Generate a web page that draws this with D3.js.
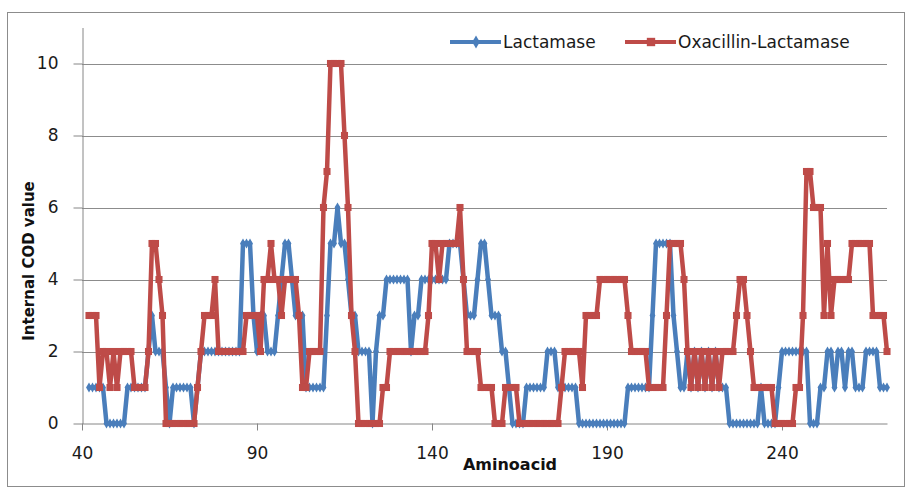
<!DOCTYPE html>
<meta charset="utf-8">
<head>
<style>
body { margin: 0; background: #fff; }
svg { display: block; }
.axis text { font: 17px "DejaVu Sans", sans-serif; fill: #1a1a1a; }
.axis path, .axis line { stroke: #868686; }
.grid line { stroke: #8c8c8c; }
.lbl { font: bold 16px "DejaVu Sans", sans-serif; fill: #111; }
.leg { font: 17px "DejaVu Sans", sans-serif; fill: #1a1a1a; }
</style>
<script src="https://d3js.org/d3.v7.min.js"></script>
</head>
<body>
<svg id="chart" width="907" height="490"></svg>
<script>

// amino acid positions 42..270
var xStart = 42;

var lactamase = [
  1,1,1,1,1,0,0,0,0,0,
  0,1,1,1,1,1,1,2,3,
  2,2,2,1,0,1,1,1,1,
  1,1,0,1,2,2,2,2,2,2,
  2,2,2,2,2,2,5,5,5,3,
  2,3,3,2,2,2,3,4,5,5,
  4,3,3,3,1,1,1,1,1,
  1,3,5,5,6,5,5,4,3,3,
  2,2,2,2,0,2,3,3,4,
  4,4,4,4,4,4,2,3,3,
  4,4,4,4,4,4,4,4,5,5,
  5,5,4,3,3,3,4,5,5,4,
  3,3,3,2,2,1,0,0,0,
  0,1,1,1,1,1,1,2,2,2,
  1,1,1,1,1,1,0,0,0,0,
  0,0,0,0,0,0,0,0,0,
  0,1,1,1,1,1,1,1,3,
  5,5,5,5,5,3,2,1,1,2,
  1,2,1,2,1,2,1,2,1,1,
  1,0,0,0,0,0,0,0,0,0,
  1,0,0,0,0,1,2,2,2,
  2,2,2,2,2,0,0,0,1,1,
  2,2,1,2,2,1,2,2,1,1,
  1,2,2,2,2,1,1,1
];

var oxacillin = [
  3,3,3,1,2,2,1,2,1,2,
  2,2,2,1,1,1,1,2,5,
  5,4,3,0,0,0,0,0,0,
  0,0,0,1,2,3,3,3,4,2,
  2,2,2,2,2,2,2,3,3,3,
  3,2,4,4,5,4,4,3,4,4,
  4,4,3,1,1,2,2,2,2,
  6,7,10,10,10,10,8,6,3,2,
  0,0,0,0,0,0,0,1,1,
  2,2,2,2,2,2,2,2,2,
  2,2,3,5,5,4,5,5,5,5,
  5,6,4,2,2,2,2,1,1,1,
  1,0,0,0,1,1,1,1,0,
  0,0,0,0,0,0,0,0,0,0,
  0,1,2,2,2,2,2,1,3,3,
  3,3,4,4,4,4,4,4,4,
  4,3,2,2,2,2,2,1,1,
  1,1,1,3,5,5,5,5,4,2,
  1,2,1,2,1,2,1,2,1,2,
  2,2,2,3,4,4,3,2,1,1,
  1,1,1,1,0,0,0,0,0,
  0,1,1,3,7,7,6,6,6,3,
  5,3,4,4,4,4,4,5,5,5,
  5,5,5,3,3,3,3,2
];

var xTicks = [40, 90, 140, 190, 240];
var yTicks = [0, 2, 4, 6, 8, 10];

var series = [
  {name: 'Lactamase', values: lactamase, color: '#4a7ebb', symbol: d3.symbolDiamond, size: 30},
  {name: 'Oxacillin-Lactamase', values: oxacillin, color: '#be4b48', symbol: d3.symbolSquare, size: 50}
];

var svg = d3.select('#chart');

// outer chart border
svg.append('rect')
  .attr('x', 7.5).attr('y', 12.5)
  .attr('width', 897).attr('height', 474)
  .attr('fill', 'none').attr('stroke', '#8c8c8c');

var x = d3.scaleLinear().domain([40, 270]).range([82, 887]);
var y = d3.scaleLinear().domain([0, 11]).range([423.5, 27.5]);

// gridlines
svg.append('g').attr('class', 'grid')
  .selectAll('line').data(yTicks.slice(1)).enter().append('line')
  .attr('x1', x(40)).attr('x2', x(270))
  .attr('y1', function(d){ return Math.round(y(d)) + 0.5; })
  .attr('y2', function(d){ return Math.round(y(d)) + 0.5; });

var yAxis = svg.append('g').attr('class', 'axis')
  .attr('transform', 'translate(82.5,0)')
  .call(d3.axisLeft(y).tickValues(yTicks).tickSize(9).tickPadding(15).tickSizeOuter(0));

var xAxis = svg.append('g').attr('class', 'axis')
  .attr('transform', 'translate(0,' + 423.5 + ')')
  .call(d3.axisBottom(x).tickValues(xTicks).tickSize(7).tickPadding(16).tickSizeOuter(0));

yAxis.selectAll('text').attr('x', -24);

// axis titles
svg.append('text').attr('class', 'lbl')
  .attr('x', 510).attr('y', 470)
  .attr('text-anchor', 'middle')
  .text('Aminoacid');

svg.append('text').attr('class', 'lbl')
  .attr('transform', 'translate(34,261) rotate(-90)')
  .attr('text-anchor', 'middle')
  .style('font-size', '15px')
  .text('Internal COD value');

var line = d3.line()
  .x(function(d, i){ return x(xStart + i); })
  .y(function(d){ return y(d); });

series.forEach(function(s){
  var g = svg.append('g');
  g.append('path')
    .datum(s.values)
    .attr('d', line)
    .attr('fill', 'none')
    .attr('stroke', s.color)
    .attr('stroke-width', 4.5)
    .attr('stroke-linejoin', 'round');

  g.selectAll('path.pt').data(s.values).enter().append('path')
    .attr('class', 'pt')
    .attr('d', d3.symbol().type(s.symbol).size(s.size))
    .attr('transform', function(d, i){ return 'translate(' + x(xStart + i) + ',' + y(d) + ')'; })
    .attr('fill', s.color);
});

// legend
var legX = [450, 625];
var leg = svg.append('g');
series.forEach(function(s, i){
  var lg = leg.append('g').attr('transform', 'translate(' + legX[i] + ',42)');
  lg.append('line').attr('x1', 0).attr('x2', 51).attr('y1', 0).attr('y2', 0)
    .attr('stroke', s.color).attr('stroke-width', 4);
  lg.append('path').attr('d', d3.symbol().type(s.symbol).size(s.size + 20))
    .attr('transform', 'translate(26,0)').attr('fill', s.color);
  lg.append('text').attr('class', 'leg')
    .attr('x', 53).attr('y', 6).text(s.name);
});

</script>
</body>
